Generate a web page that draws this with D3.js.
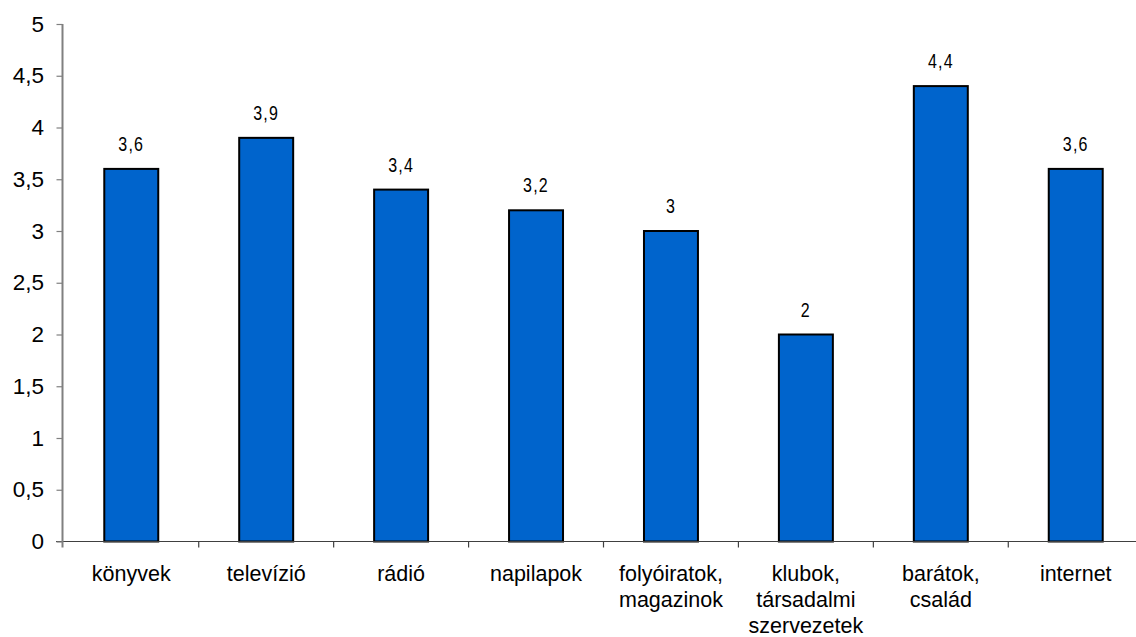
<!DOCTYPE html>
<html><head><meta charset="utf-8">
<script src="https://cdn.jsdelivr.net/npm/d3@7"></script>
<style>
html,body{margin:0;padding:0;background:#fff;}
svg{display:block;}
</style></head><body>
<svg id="c" width="1136" height="637"></svg>
<script>
const categories = [
  ["könyvek"],
  ["televízió"],
  ["rádió"],
  ["napilapok"],
  ["folyóiratok,", "magazinok"],
  ["klubok,", "társadalmi", "szervezetek"],
  ["barátok,", "család"],
  ["internet"]
];
const values = [3.6, 3.9, 3.4, 3.2, 3.0, 2.0, 4.4, 3.6];
const valueLabels = ["3,6", "3,9", "3,4", "3,2", "3", "2", "4,4", "3,6"];
const yTicks = [0, 0.5, 1, 1.5, 2, 2.5, 3, 3.5, 4, 4.5, 5];
const yTickLabels = ["0", "0,5", "1", "1,5", "2", "2,5", "3", "3,5", "4", "4,5", "5"];

const svg = d3.select("#c");
const idx = d3.range(values.length);
const x = d3.scaleBand().domain(idx).range([63.8, 1143.2]).paddingInner(0.6).paddingOuter(0.3);
const y = d3.scaleLinear().domain([0, 5]).range([541.5, 24]);
const bandStep = x.step();
const x0 = 63.8;

// bars
svg.append("g").selectAll("rect").data(idx).join("rect")
  .attr("x", i => x(i))
  .attr("y", i => y(values[i]))
  .attr("width", x.bandwidth())
  .attr("height", i => y(0) - y(values[i]))
  .attr("fill", "#0064CC")
  .attr("stroke", "#000")
  .attr("stroke-width", 2);

// value labels (thin, condensed look)
svg.append("g").selectAll("text").data(idx).join("text")
  .attr("transform", i => `translate(${x(i) + x.bandwidth() / 2},${y(values[i]) - 18}) scale(0.8,1)`)
  .attr("text-anchor", "middle")
  .attr("font-family", "'Liberation Sans', Arial, sans-serif")
  .attr("font-size", 20)
  .attr("letter-spacing", 1.5)
  .attr("fill", "#000")
  .text(i => valueLabels[i]);

// x axis line
svg.append("line")
  .attr("x1", 56).attr("x2", 1136)
  .attr("y1", y(0)).attr("y2", y(0))
  .attr("stroke", "#404040").attr("stroke-width", 1.2);

// x ticks (category boundaries)
const boundaries = d3.range(1, values.length + 1).map(k => x0 + k * bandStep);
svg.append("g").selectAll("line").data(boundaries).join("line")
  .attr("x1", d => d).attr("x2", d => d)
  .attr("y1", y(0)).attr("y2", y(0) + 6)
  .attr("stroke", "#404040").attr("stroke-width", 1.2);

// y axis
const yAxis = d3.axisLeft(y).tickValues(yTicks).tickSize(6)
  .tickFormat((d, i) => yTickLabels[i]);
const gy = svg.append("g").attr("transform", "translate(62.5,0)").call(yAxis);
gy.select(".domain").attr("stroke", "#808080").attr("stroke-width", 2)
  .attr("d", `M0,${y(5)}V${y(0) + 6}`);
gy.selectAll(".tick line").attr("stroke", "#808080").attr("stroke-width", 1.2);
gy.selectAll(".tick text")
  .attr("x", -18.5)
  .attr("font-family", "'Liberation Sans', Arial, sans-serif")
  .attr("font-size", 22.5)
  .attr("fill", "#000");

// x category labels
const xl = svg.append("g").selectAll("text").data(idx).join("text")
  .attr("text-anchor", "middle")
  .attr("font-family", "'Liberation Sans', Arial, sans-serif")
  .attr("font-size", 21.5)
  .attr("fill", "#000");
xl.each(function(i) {
  const t = d3.select(this);
  categories[i].forEach((line, j) => {
    t.append("tspan")
      .attr("x", x(i) + x.bandwidth() / 2)
      .attr("y", 581 + j * 26)
      .text(line);
  });
});
</script>
</body></html>
